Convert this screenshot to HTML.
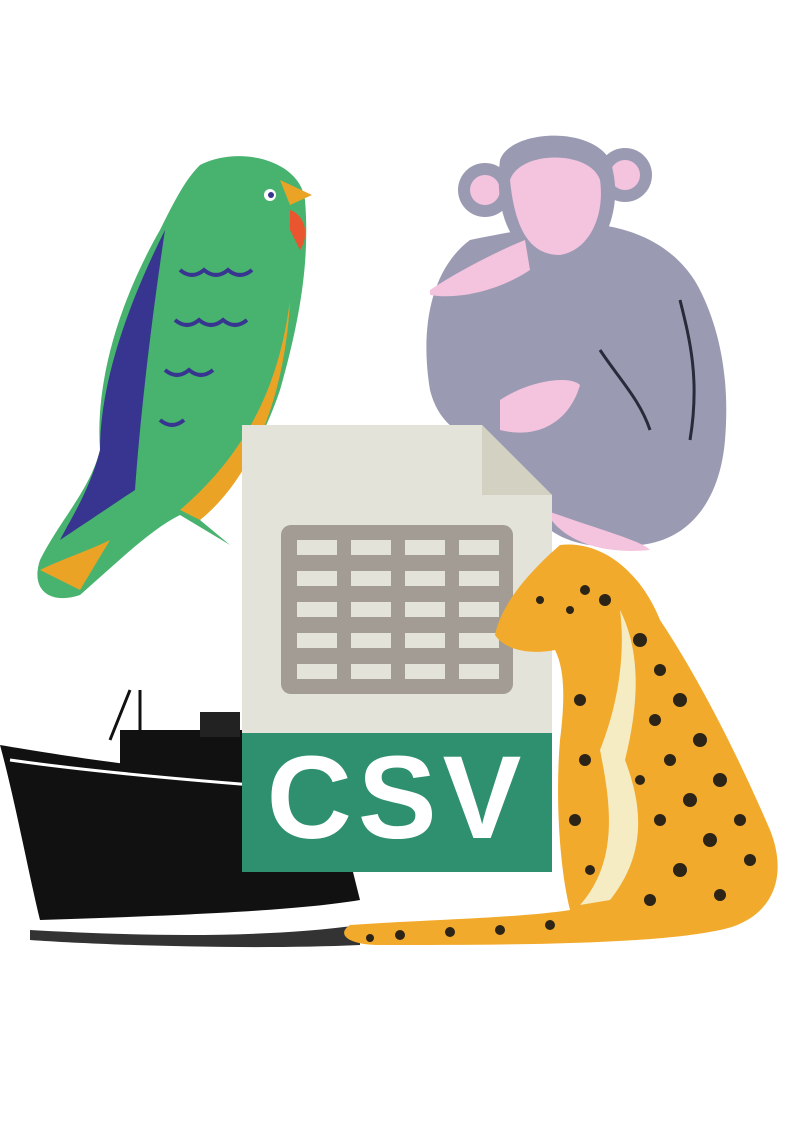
<!DOCTYPE html>
<html><head><meta charset="utf-8"><style>
html,body{margin:0;padding:0;background:#fff;}
svg{display:block;}
</style></head><body>
<svg width="794" height="1123" viewBox="0 0 794 1123" xmlns="http://www.w3.org/2000/svg">
<rect width="794" height="1123" fill="#fff"/>
<!-- Monkey -->
<g>
<path d="M470 240 C430 270 420 330 430 390 C440 430 470 440 500 450 L540 520 C560 545 600 550 640 545 C690 540 720 500 725 440 C730 380 720 330 700 290 C680 250 640 230 600 225 C560 222 520 230 470 240Z" fill="#9a9ab3"/>
<path d="M545 510 C560 540 600 555 650 550 C640 540 600 530 545 510Z" fill="#f4c3de"/>
<circle cx="485" cy="190" r="27" fill="#9a9ab3"/>
<circle cx="485" cy="190" r="15" fill="#f4c3de"/>
<circle cx="625" cy="175" r="27" fill="#9a9ab3"/>
<circle cx="625" cy="175" r="15" fill="#f4c3de"/>
<path d="M500 160 C510 130 590 125 610 160 C620 190 615 220 600 245 C585 265 545 265 525 250 C505 235 495 200 500 160Z" fill="#9a9ab3"/>
<path d="M510 180 C520 150 590 150 600 180 C605 215 590 250 560 255 C530 255 515 230 510 180Z" fill="#f4c3de"/>
<path d="M430 290 C460 270 500 250 525 240 L530 270 C500 290 460 300 430 295Z" fill="#f4c3de"/>
<path d="M500 400 C530 380 570 375 580 385 C570 420 540 440 500 430Z" fill="#f4c3de"/>
<path d="M680 300 C690 340 700 380 690 440 M600 350 C620 380 640 400 650 430" stroke="#2a2a3a" stroke-width="3" fill="none"/>
</g>
<!-- Parrot -->
<g>
<path d="M200 165 C240 145 300 160 305 200 C310 260 300 320 280 390 C260 450 230 490 200 520 L230 545 L180 515 C150 530 120 560 80 595 C50 605 30 590 40 560 C60 520 90 490 100 450 C95 380 120 300 160 230 C175 200 185 180 200 165Z" fill="#47b36f"/>
<path d="M165 230 C130 300 100 380 100 450 C90 490 70 520 60 540 C90 520 120 500 135 490 C140 420 150 330 165 230Z" fill="#383590"/>
<path d="M290 300 C280 380 250 450 180 510 L200 520 C250 480 285 400 290 300Z" fill="#eba326"/>
<path d="M40 570 C60 560 90 550 110 540 L80 590 Z" fill="#eba326"/>
<path d="M290 210 C305 215 310 235 300 250 L290 230Z" fill="#e9552e"/>
<path d="M280 180 L312 195 L290 205Z" fill="#eba326"/>
<circle cx="270" cy="195" r="6" fill="#fff"/><circle cx="271" cy="195" r="3" fill="#383590"/>
<path d="M180 270 q12 10 24 0 q12 10 24 0 q12 10 24 0 M175 320 q12 10 24 0 q12 10 24 0 q12 10 24 0 M165 370 q12 10 24 0 q12 10 24 0 M160 420 q12 10 24 0" stroke="#383590" stroke-width="4" fill="none"/>
</g>
<!-- Ship -->
<g>
<path d="M0 745 C60 755 150 770 250 775 L330 780 L360 900 C300 910 200 915 40 920 C30 880 15 800 0 745Z" fill="#111"/>
<rect x="120" y="730" width="140" height="45" fill="#111"/>
<rect x="200" y="712" width="40" height="25" fill="#222"/>
<path d="M110 740 L130 690 M140 760 L140 690" stroke="#111" stroke-width="3"/>
<path d="M30 930 C120 935 250 940 360 925 L360 945 C250 950 100 945 30 940Z" fill="#333"/>
<path d="M10 760 C80 770 180 780 320 790" stroke="#fff" stroke-width="3" fill="none"/>
</g>
<!-- CSV file -->
<g>
<path d="M242 425 L482 425 L552 495 L552 872 L242 872Z" fill="#e4e3d9"/>
<path d="M482 425 L482 495 L552 495Z" fill="#d3d1c2"/>
<rect x="281" y="525" width="232" height="169" rx="10" fill="#a29c95"/>
<g fill="#e4e3d9">
<rect x="297" y="540" width="40" height="15"/><rect x="351" y="540" width="40" height="15"/><rect x="405" y="540" width="40" height="15"/><rect x="459" y="540" width="40" height="15"/>
<rect x="297" y="571" width="40" height="15"/><rect x="351" y="571" width="40" height="15"/><rect x="405" y="571" width="40" height="15"/><rect x="459" y="571" width="40" height="15"/>
<rect x="297" y="602" width="40" height="15"/><rect x="351" y="602" width="40" height="15"/><rect x="405" y="602" width="40" height="15"/><rect x="459" y="602" width="40" height="15"/>
<rect x="297" y="633" width="40" height="15"/><rect x="351" y="633" width="40" height="15"/><rect x="405" y="633" width="40" height="15"/><rect x="459" y="633" width="40" height="15"/>
<rect x="297" y="664" width="40" height="15"/><rect x="351" y="664" width="40" height="15"/><rect x="405" y="664" width="40" height="15"/><rect x="459" y="664" width="40" height="15"/>
</g>
<rect x="242" y="733" width="310" height="139" fill="#2f9070"/>
<text x="397" y="838" text-anchor="middle" font-family="Liberation Sans, sans-serif" font-size="118" font-weight="bold" fill="#fff" letter-spacing="6">CSV</text>
</g>
<!-- Leopard -->
<g>
<path d="M560 545 C600 540 640 570 660 620 C700 680 740 760 770 830 C790 880 770 920 720 930 C650 945 500 945 380 945 C350 945 335 935 350 925 C420 920 520 918 570 910 C560 870 555 800 560 740 C565 700 565 670 555 650 C530 655 505 650 495 635 C500 610 520 580 560 545Z" fill="#f2aa2c"/>
<path d="M620 610 C640 650 640 700 625 760 C640 800 650 850 610 900 L580 905 C620 860 610 800 600 750 C620 700 625 650 620 610Z" fill="#f6ecc3"/>
<g fill="#2c2416">
<circle cx="585" cy="590" r="5"/><circle cx="605" cy="600" r="6"/><circle cx="570" cy="610" r="4"/><circle cx="640" cy="640" r="7"/><circle cx="660" cy="670" r="6"/><circle cx="680" cy="700" r="7"/><circle cx="655" cy="720" r="6"/><circle cx="700" cy="740" r="7"/><circle cx="670" cy="760" r="6"/><circle cx="720" cy="780" r="7"/><circle cx="690" cy="800" r="7"/><circle cx="740" cy="820" r="6"/><circle cx="710" cy="840" r="7"/><circle cx="750" cy="860" r="6"/><circle cx="680" cy="870" r="7"/><circle cx="720" cy="895" r="6"/><circle cx="650" cy="900" r="6"/><circle cx="580" cy="700" r="6"/><circle cx="585" cy="760" r="6"/><circle cx="575" cy="820" r="6"/><circle cx="590" cy="870" r="5"/><circle cx="550" cy="925" r="5"/><circle cx="500" cy="930" r="5"/><circle cx="450" cy="932" r="5"/><circle cx="400" cy="935" r="5"/><circle cx="370" cy="938" r="4"/><circle cx="540" cy="600" r="4"/><circle cx="660" cy="820" r="6"/><circle cx="640" cy="780" r="5"/>
</g>
</g>
</svg>
</body></html>
